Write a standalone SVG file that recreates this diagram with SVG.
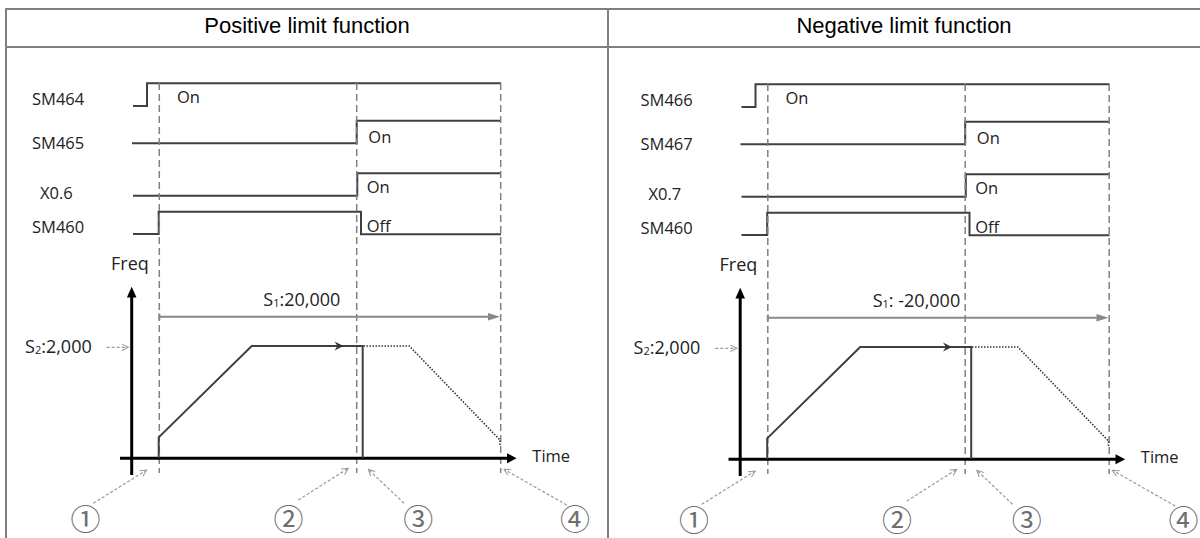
<svg xmlns="http://www.w3.org/2000/svg" width="1200" height="538" viewBox="0 0 1200 538">
<defs>
<style>
.frame{stroke:#808080;stroke-width:2;fill:none}
.hdr{font-family:"Liberation Sans",Arial,sans-serif;font-size:22px;fill:#000;text-anchor:middle}
.lbl{font-family:"Open Sans","Noto Sans",sans-serif;font-size:16.5px;fill:#222}
.big{font-family:"Open Sans","Noto Sans",sans-serif;font-size:18px;fill:#222}
.sub{font-size:11px}
.sig{stroke:#404040;stroke-width:2;fill:none}
.vdash{stroke:#808080;stroke-width:1.5;stroke-dasharray:7,4;fill:none}
.axis{stroke:#000;stroke-width:3;fill:none}
.prof{stroke:#404040;stroke-width:2;fill:none}
.dot{stroke:#333;stroke-width:1.6;stroke-dasharray:1.5,1.5;fill:none}
.span{stroke:#888;stroke-width:2;fill:none}
.lead{stroke:#999;stroke-width:1.2;stroke-dasharray:3,2;fill:none;marker-end:url(#open)}
.num{font-family:"Noto Sans CJK JP","Noto Sans CJK SC",sans-serif;font-size:30px;fill:#6e6e6e;text-anchor:middle}
</style>
<marker id="open" viewBox="0 0 10 10" refX="9" refY="5" markerWidth="8" markerHeight="8" markerUnits="userSpaceOnUse" orient="auto">
<path d="M1,1 L9,5 L1,9" stroke="#999" stroke-width="1.3" fill="none"/>
</marker>
<g id="panel">
<g id="signals">
<path class="sig" d="M133,106 H147 V83.3 H501"/>
<path class="sig" d="M132,143.3 H356.7 V120.7 H501"/>
<path class="sig" d="M133,195.7 H357.3 V173.3 H501"/>
<path class="sig" d="M133,234 H158.7 V211.7 H361 V234.3 H501"/>
<text class="lbl" x="177" y="103.3">On</text>
<text class="lbl" x="368.3" y="143.3">On</text>
<text class="lbl" x="366.7" y="193.3">On</text>
<text class="lbl" x="366.7" y="232.3">Off</text>
</g>
<g id="markers">
<line class="vdash" x1="159.3" y1="83" x2="159.3" y2="473"/>
<line class="vdash" x1="356.7" y1="83" x2="356.7" y2="473"/>
<line class="vdash" x1="500.7" y1="83" x2="500.7" y2="473"/>
</g>
<g id="chart">
<line class="axis" x1="131.7" y1="296" x2="131.7" y2="475"/>
<path d="M131.7,286.7 L136.5,297.5 L126.9,297.5 Z" fill="#000"/>
<line class="axis" x1="120" y1="458.3" x2="508" y2="458.3"/>
<path d="M516.7,458.3 L507,453.3 L507,463.3 Z" fill="#000"/>
<text class="big" x="111" y="270">Freq</text>
<text class="lbl" x="532.3" y="461.7">Time</text>
<line class="span" x1="159.3" y1="316.7" x2="490" y2="316.7"/>
<line class="span" x1="159.3" y1="313.5" x2="159.3" y2="320"/>
<path d="M500,316.7 L488,313 L488,320.4 Z" fill="#888"/>
<path class="prof" d="M158.7,458 V437.3 L251.7,346 H362.7 V458"/>
<path d="M334.5,341.5 L343.5,346 L334.5,350.5 L337.5,346 Z" fill="#333"/>
<path class="dot" d="M363.5,346 H409.3 L500,440 V446"/>
<line class="lead" x1="106.7" y1="347.3" x2="128.3" y2="347.3"/>
</g>
<g id="callouts">
<line class="lead" x1="93.3" y1="503.3" x2="146.7" y2="470"/>
<line class="lead" x1="298.3" y1="500" x2="348.3" y2="468.3"/>
<line class="lead" x1="404" y1="503.3" x2="368.3" y2="469.3"/>
<line class="lead" x1="566.7" y1="505" x2="504" y2="469.3"/>
<text class="num" x="85.5" y="529.5">①</text>
<text class="num" x="288.5" y="529.5">②</text>
<text class="num" x="418.3" y="529.5">③</text>
<text class="num" x="575" y="529.5">④</text>
</g>
</g>
</defs>

<g id="table">
<line class="frame" x1="6" y1="9" x2="1200" y2="9"/>
<line class="frame" x1="6" y1="47" x2="1200" y2="47"/>
<line class="frame" x1="6" y1="8" x2="6" y2="538"/>
<line class="frame" x1="608" y1="8" x2="608" y2="538"/>
<text class="hdr" x="307" y="32.7">Positive limit function</text>
<text class="hdr" x="904" y="32.7">Negative limit function</text>
</g>

<g id="positive">
<use href="#panel"/>
<text class="lbl" x="32" y="105">SM464</text>
<text class="lbl" x="32" y="149">SM465</text>
<text class="lbl" x="40" y="199">X0.6</text>
<text class="lbl" x="32" y="232.7">SM460</text>
<text class="big" x="25" y="353.3">S<tspan class="sub" dy="1">2</tspan><tspan dy="-1">:2,000</tspan></text>
<text class="big" x="263.3" y="306">S<tspan class="sub" dy="1">1</tspan><tspan dy="-1">:20,000</tspan></text>
</g>

<g id="negative" transform="translate(608.5,1)">
<use href="#panel"/>
<text class="lbl" x="32" y="105">SM466</text>
<text class="lbl" x="32" y="149">SM467</text>
<text class="lbl" x="40" y="199">X0.7</text>
<text class="lbl" x="32" y="232.7">SM460</text>
<text class="big" x="25" y="353.3">S<tspan class="sub" dy="1">2</tspan><tspan dy="-1">:2,000</tspan></text>
<text class="big" x="264.2" y="306">S<tspan class="sub" dy="1">1</tspan><tspan dy="-1">: -20,000</tspan></text>
</g>
</svg>
